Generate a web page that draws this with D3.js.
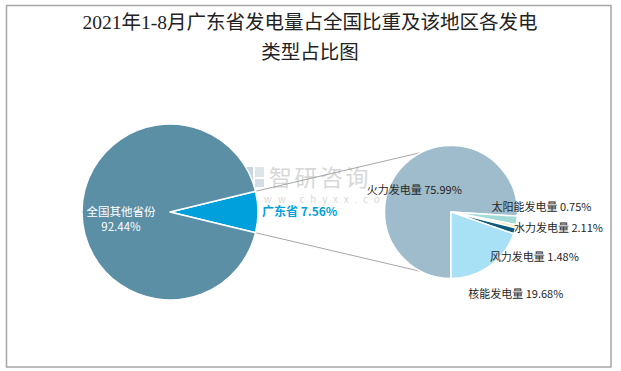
<!DOCTYPE html>
<html>
<head>
<meta charset="utf-8">
<script src="https://cdn.jsdelivr.net/npm/d3@7"></script>
<style>
  body { margin: 0; background: #fff; }
  text { font-family: "Noto Sans CJK SC", "Noto Sans", sans-serif; }
</style>
</head>
<body>
<div id="chart"></div>
<script>
// main pie: Guangdong vs rest of country
const mainNames = ["广东省", "全国其他省份"];
const mainValues = [7.56, 92.44];
const mainColors = ["#00a0dc", "#5b8fa6"];

// secondary pie: Guangdong generation by type
const typeNames = ["火力发电量", "水力发电量", "太阳能发电量", "风力发电量", "核能发电量"];
const typeValues = [75.99, 2.11, 0.75, 1.48, 19.68];
const typeColors = ["#9ebccb", "#a3dbd8", "#fbe8bd", "#0e5a78", "#a8e0f6"];

const titleLines = ["2021年1-8月广东省发电量占全国比重及该地区各发电", "类型占比图"];

const width = 621, height = 371;

const svg = d3.select("#chart")
    .append("svg")
    .attr("width", width)
    .attr("height", height);

svg.append("rect")
    .attr("x", 6.5).attr("y", 5.5)
    .attr("width", 604.5).attr("height", 361.5)
    .attr("fill", "#fff")
    .attr("stroke", "#a6a6a6")
    .attr("stroke-width", 1.5);

svg.selectAll(".title")
    .data(titleLines)
    .enter().append("text")
    .attr("class", "title")
    .attr("x", 310)
    .attr("y", (d, i) => 29 + i * 30)
    .attr("text-anchor", "middle")
    .style("font-family", "'Liberation Serif', 'Noto Sans CJK SC', serif")
    .style("font-size", "19.5px")
    .style("fill", "#222")
    .text(d => d);

// watermark
const wm = svg.append("g").attr("opacity", 0.55);
wm.append("rect").attr("x", 244).attr("y", 167).attr("width", 9).attr("height", 20).attr("fill", "#9fb3c8");
wm.append("rect").attr("x", 255).attr("y", 167).attr("width", 9).attr("height", 10).attr("fill", "#c4cfdb");
wm.append("rect").attr("x", 255).attr("y", 179).attr("width", 9).attr("height", 8).attr("fill", "#b3c2d2");
wm.append("text")
    .attr("x", 269).attr("y", 186)
    .style("font-size", "23px")
    .style("fill", "#b8b8b8")
    .style("letter-spacing", "2.5px")
    .text("智研咨询");
wm.append("text")
    .attr("x", 250).attr("y", 203)
    .style("font-size", "10px")
    .style("fill", "#b8b8b8")
    .style("letter-spacing", "5.8px")
    .text("www.chyxx.com");

// geometry
const big = {cx: 170, cy: 212, r: 88};
const small = {cx: 451, cy: 212, r: 66.5};

const gdShare = mainValues[0] / d3.sum(mainValues);
const mainPie = d3.pie().sort(null)
    .startAngle(Math.PI / 2 - gdShare * Math.PI)
    .endAngle(Math.PI / 2 - gdShare * Math.PI + 2 * Math.PI);
const mainArcs = mainPie(mainValues);

const typePie = d3.pie().sort(null)
    .startAngle(Math.PI)
    .endAngle(3 * Math.PI);
const typeArcs = typePie(typeValues);

const bigArc = d3.arc().innerRadius(0).outerRadius(big.r);
const smallArc = d3.arc().innerRadius(0).outerRadius(small.r);

// connector lines from Guangdong slice to the secondary pie
const gd = mainArcs[0];
const pt = a => [big.cx + big.r * Math.sin(a), big.cy - big.r * Math.cos(a)];
const lines = [
    [pt(gd.startAngle), [small.cx, small.cy - small.r]],
    [pt(gd.endAngle), [small.cx, small.cy + small.r]]
];
svg.selectAll(".conn")
    .data(lines)
    .enter().append("line")
    .attr("class", "conn")
    .attr("x1", d => d[0][0]).attr("y1", d => d[0][1])
    .attr("x2", d => d[1][0]).attr("y2", d => d[1][1])
    .attr("stroke", "#a6a6a6")
    .attr("stroke-width", 1);

const gBig = svg.append("g").attr("transform", `translate(${big.cx},${big.cy})`);
gBig.selectAll("path")
    .data(mainArcs)
    .enter().append("path")
    .attr("d", bigArc)
    .attr("fill", (d, i) => mainColors[i])
    .attr("stroke", "#fff")
    .attr("stroke-width", 1.5)
    .attr("stroke-linejoin", "round");

const gSmall = svg.append("g").attr("transform", `translate(${small.cx},${small.cy})`);
gSmall.selectAll("path")
    .data(typeArcs)
    .enter().append("path")
    .attr("d", smallArc)
    .attr("fill", (d, i) => typeColors[i])
    .attr("stroke", "#fff")
    .attr("stroke-width", 1.5)
    .attr("stroke-linejoin", "round");

const fmt = v => v.toFixed(2) + "%";

// main labels
const otherC = bigArc.centroid(mainArcs[1]);
const otherLbl = gBig.append("text")
    .attr("text-anchor", "middle")
    .attr("y", otherC[1] + 4)
    .style("font-size", "11.5px")
    .style("fill", "#fff");
otherLbl.append("tspan").attr("x", otherC[0] - 5).text(mainNames[1]);
otherLbl.append("tspan").attr("x", otherC[0] - 5).attr("dy", 15).text(fmt(mainValues[1]));

gBig.append("text")
    .attr("x", big.r + 4)
    .attr("y", 4)
    .style("font-size", "12px")
    .style("font-weight", "bold")
    .style("fill", mainColors[0])
    .text(mainNames[0] + " " + fmt(mainValues[0]));

// label nudges for the secondary pie, relative to each slice centroid
const typeLabelShift = [
    [-14, 6, "middle"],
    [30, 16, "start"],
    [8, -8, "start"],
    [7, 40, "start"],
    [-2, 59, "start"]
];
gSmall.selectAll(".tlbl")
    .data(typeArcs)
    .enter().append("text")
    .attr("class", "tlbl")
    .attr("x", (d, i) => smallArc.centroid(d)[0] + typeLabelShift[i][0])
    .attr("y", (d, i) => smallArc.centroid(d)[1] + typeLabelShift[i][1])
    .attr("text-anchor", (d, i) => typeLabelShift[i][2])
    .style("font-size", "11px")
    .style("fill", "#262626")
    .text((d, i) => typeNames[i] + " " + fmt(typeValues[i]));
</script>
</body>
</html>
